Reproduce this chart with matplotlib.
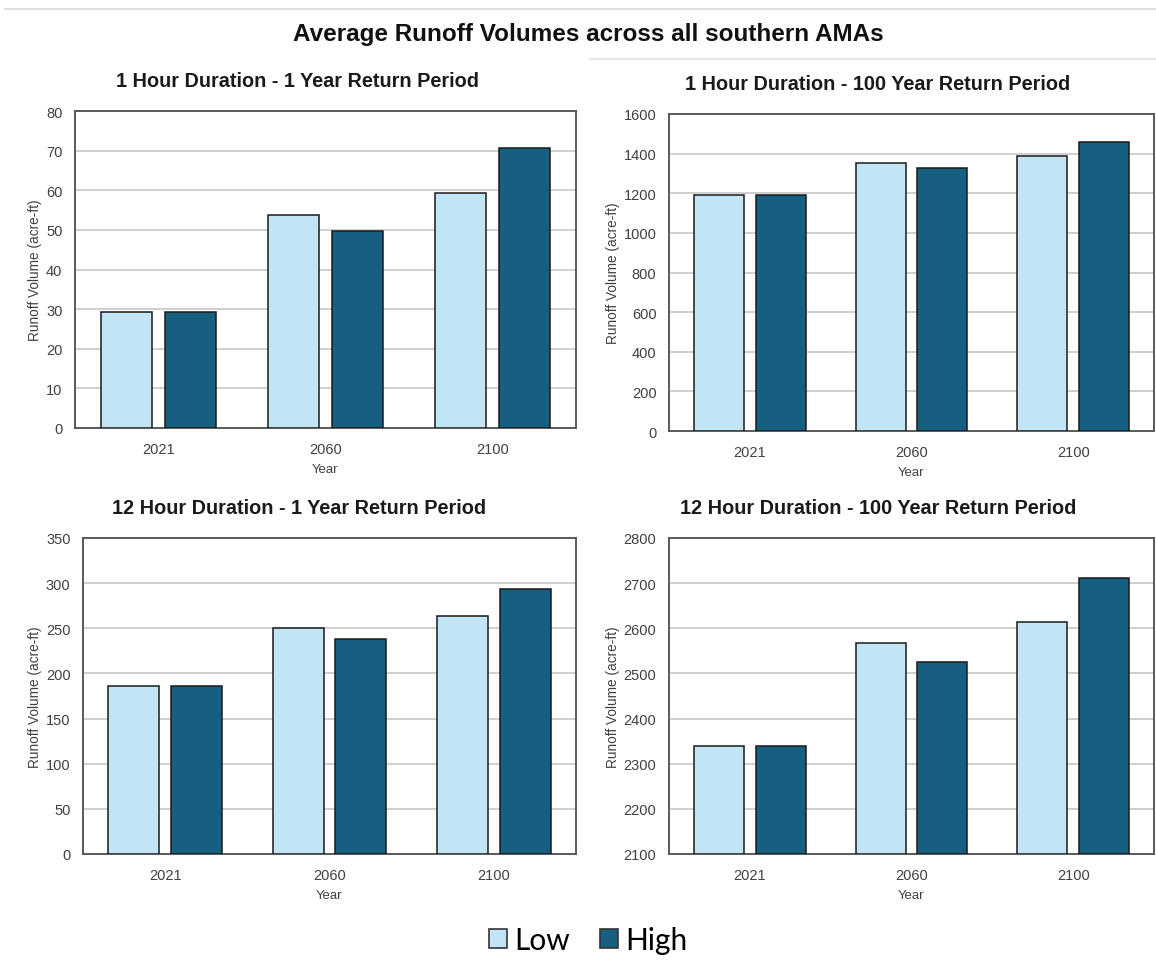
import numpy as np
import matplotlib.pyplot as plt
from matplotlib.patches import Patch
from matplotlib.lines import Line2D

# scenario years and runoff volumes (acre-ft) for each duration / return period
years = ['2021', '2060', '2100']

hr1_yr1_low = [29.3, 53.8, 59.4]
hr1_yr1_high = [29.3, 49.8, 70.6]

hr1_yr100_low = [1192, 1355, 1389]
hr1_yr100_high = [1191, 1326, 1459]

hr12_yr1_low = [186, 250, 264]
hr12_yr1_high = [186, 238, 294]

hr12_yr100_low = [2340, 2567, 2614]
hr12_yr100_high = [2340, 2526, 2711]

LOW_COLOR = '#C2E5F5'
HIGH_COLOR = '#175F80'

W, H = 1156, 962


def px_rect(left, top, right, bottom):
    """Convert a pixel box (origin top-left) into figure coordinates."""
    return [left / W, 1 - bottom / H, (right - left) / W, (bottom - top) / H]


def draw_panel(fig, box, low, high, ylim, step, title, title_xy, ylabel_x):
    ax = fig.add_axes(px_rect(*box))
    x = np.arange(len(years))
    width = 0.31
    off = 0.191
    ax.bar(x - off, np.array(low) - ylim[0], width, bottom=ylim[0], color=LOW_COLOR,
           edgecolor='#1a1a1a', linewidth=1.1, zorder=3)
    ax.bar(x + off, np.array(high) - ylim[0], width, bottom=ylim[0], color=HIGH_COLOR,
           edgecolor='#1a1a1a', linewidth=1.1, zorder=3)

    ax.set_xlim(-0.5, len(years) - 0.5)
    ax.set_ylim(*ylim)
    ax.set_yticks(np.arange(ylim[0], ylim[1] + step, step))
    ax.set_xticks(x)
    ax.set_xticklabels(years)
    ax.yaxis.grid(True, color='#cfcfcf', linewidth=1.4, zorder=0)
    ax.set_axisbelow(True)
    for sp in ax.spines.values():
        sp.set_color('#5a5a5a')
        sp.set_linewidth(1.4)
    ax.tick_params(axis='both', length=0, labelsize=10.5, colors='#404040')
    ax.tick_params(axis='y', pad=9)
    ax.tick_params(axis='x', pad=10)
    ax.set_xlabel('Year', fontsize=9.5, color='#404040', labelpad=5)

    # y label and panel title positioned relative to the chart block
    yc = 1 - (box[1] + box[3]) / 2 / H
    fig.text(ylabel_x / W, yc, 'Runoff Volume (acre-ft)', rotation=90,
             ha='center', va='center', fontsize=9.8, color='#404040')
    fig.text(title_xy[0] / W, 1 - title_xy[1] / H, title, ha='center', va='center',
             fontsize=14.3, fontweight='bold', color='#1a1a1a',
             family=['Liberation Sans', 'DejaVu Sans'])
    return ax


fig = plt.figure(figsize=(W / 100, H / 100), dpi=100)
plt.rcParams['font.family'] = ['Liberation Sans', 'DejaVu Sans']

# thin separators along the top of the sheet
fig.add_artist(Line2D([5 / W, 1], [1 - 10 / H, 1 - 10 / H], color='#d9d9d9', linewidth=1.2))
fig.add_artist(Line2D([590 / W, 1], [1 - 60 / H, 1 - 60 / H], color='#e3e3e3', linewidth=1.2))

fig.text(588 / W, 1 - 35 / H, 'Average Runoff Volumes across all southern AMAs',
         ha='center', va='center', fontsize=17.5, fontweight='bold', color='#111111',
         family=['Liberation Sans', 'DejaVu Sans'])

draw_panel(fig, (75, 112, 576, 429), hr1_yr1_low, hr1_yr1_high, (0, 80), 10,
           '1 Hour Duration - 1 Year Return Period', (298, 82), 35)
draw_panel(fig, (669, 115, 1154, 432), hr1_yr100_low, hr1_yr100_high, (0, 1600), 200,
           '1 Hour Duration - 100 Year Return Period', (878, 84), 613)
draw_panel(fig, (83, 539, 576, 855), hr12_yr1_low, hr12_yr1_high, (0, 350), 50,
           '12 Hour Duration - 1 Year Return Period', (299, 508), 35)
draw_panel(fig, (669, 539, 1154, 855), hr12_yr100_low, hr12_yr100_high, (2100, 2800), 100,
           '12 Hour Duration - 100 Year Return Period', (878, 508), 613)

handles = [Patch(facecolor=LOW_COLOR, edgecolor='#333333', linewidth=1.2, label='Low'),
           Patch(facecolor=HIGH_COLOR, edgecolor='#333333', linewidth=1.2, label='High')]
fig.legend(handles=handles, loc='center', bbox_to_anchor=(588 / W, 1 - 941 / H),
           ncol=2, frameon=False, handlelength=0.6, handleheight=0.6,
           handletextpad=0.25, columnspacing=1.0,
           prop={'family': ['Lato', 'DejaVu Sans'], 'size': 21.5})

fig.savefig('out.png', dpi=100, facecolor='white')
